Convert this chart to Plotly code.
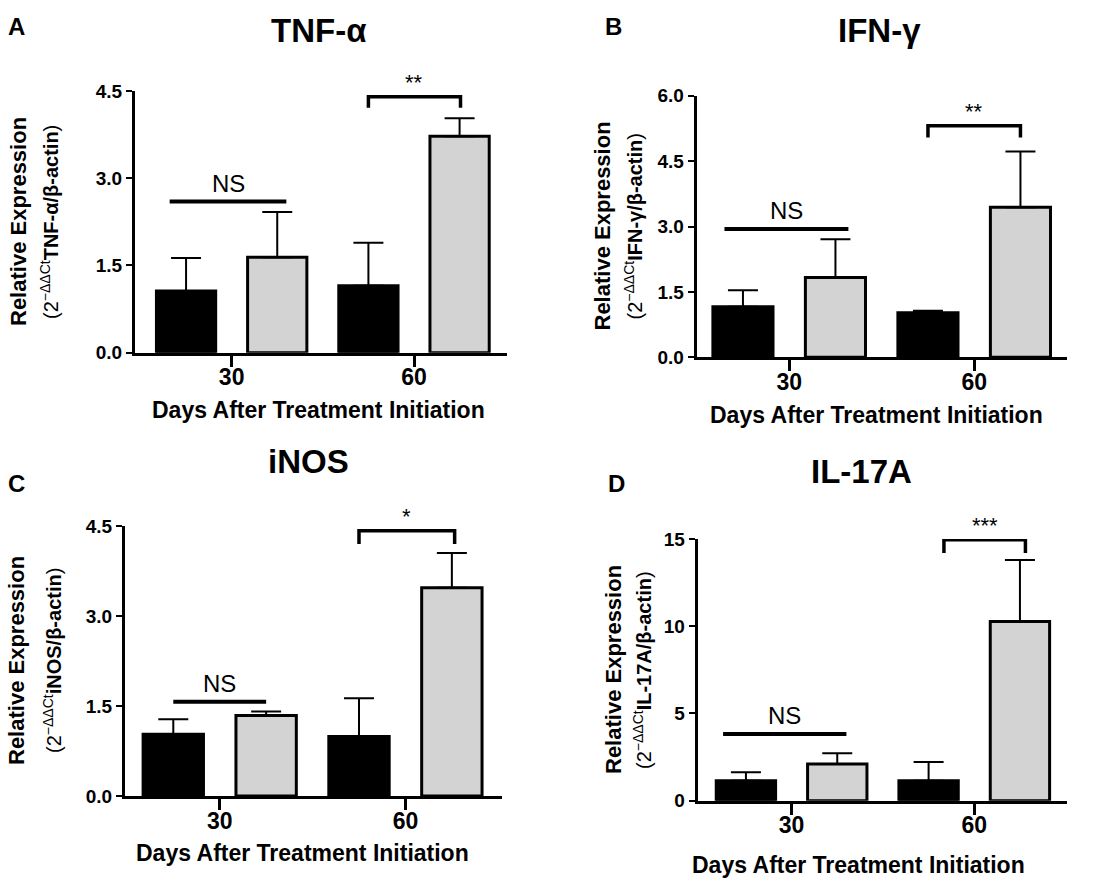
import plotly.graph_objects as go

W, H = 1115, 889
FONT = "Arial, Liberation Sans, sans-serif"
GRAY = "#d3d3d3"

days = ["30", "60"]

# means and upper error (SEM)
tnf_ctrl = [1.06, 1.15]
tnf_ctrl_err = [0.57, 0.74]
tnf_trt = [1.64, 3.72]
tnf_trt_err = [0.78, 0.31]

ifn_ctrl = [1.16, 1.02]
ifn_ctrl_err = [0.38, 0.05]
ifn_trt = [1.83, 3.44]
ifn_trt_err = [0.88, 1.28]

inos_ctrl = [1.03, 0.99]
inos_ctrl_err = [0.25, 0.64]
inos_trt = [1.34, 3.47]
inos_trt_err = [0.07, 0.58]

il17_ctrl = [1.15, 1.15]
il17_ctrl_err = [0.48, 1.07]
il17_trt = [2.10, 10.27]
il17_trt_err = [0.62, 3.53]

ns_level = [2.60, 2.94, 1.57, 3.82]
star_level = [4.40, 5.31, 4.42, 14.95]
star_drop = [4.21, 5.04, 4.20, 14.20]
star_text = ["**", "**", "*", "***"]

y_max = [4.5, 6.0, 4.5, 15]
y_step = [1.5, 1.5, 1.5, 5]
y_fmt = [".1f", ".1f", ".1f", "d"]
titles = ["TNF-α", "IFN-γ", "iNOS", "IL-17A"]
genes = ["TNF-α", "IFN-γ", "iNOS", "IL-17A"]
letters = ["A", "B", "C", "D"]


def px(x, y):
    return x / W, 1 - y / H


# pixel boxes of each plot area: left, right, top, bottom
boxes = [(135, 507, 91, 352.7), (696.7, 1066.7, 95.7, 357.3),
         (125, 502, 526, 796), (697.7, 1066.7, 539, 800.7)]
x_range = [(-0.53, 1.51), (-0.5, 1.5), (-0.51, 1.52), (-0.514, 1.506)]
ns_span = [(-0.34, 0.30), (-0.35, 0.32), (-0.25, 0.25), (-0.375, 0.30)]
br_span = [(0.75, 1.255), (0.75, 1.25), (0.75, 1.265), (0.834, 1.28)]
title_pos = [(318, 31), (879, 31), (308, 462), (861, 471)]
letter_pos = [(16, 27), (614, 27), (16, 483), (616, 483)]
xtitle_pos = [(318, 410), (876, 415), (302, 853), (858, 865)]
ytitle_pos = [(18, 49, 222), (602, 633, 226.5), (16, 52, 661), (613, 642, 670)]

ctrl = [(tnf_ctrl, tnf_ctrl_err), (ifn_ctrl, ifn_ctrl_err),
        (inos_ctrl, inos_ctrl_err), (il17_ctrl, il17_ctrl_err)]
trt = [(tnf_trt, tnf_trt_err), (ifn_trt, ifn_trt_err),
       (inos_trt, inos_trt_err), (il17_trt, il17_trt_err)]

fig = go.Figure()
ann = []
shapes = []


def label(x, y, text, size, angle=0):
    ax, ay = px(x, y)
    ann.append(dict(xref="paper", yref="paper", x=ax, y=ay, text=text,
                    showarrow=False, xanchor="center", yanchor="middle",
                    textangle=angle,
                    font=dict(family=FONT, size=size, color="black")))


for i in range(4):
    sfx = "" if i == 0 else str(i + 1)
    xa, ya = "x" + sfx, "y" + sfx
    for (vals, err), col in [(ctrl[i], "black"), (trt[i], GRAY)]:
        fig.add_trace(go.Bar(
            x=days, y=vals, xaxis=xa, yaxis=ya,
            marker=dict(color=col, line=dict(color="black", width=3)),
            error_y=dict(type="data", symmetric=False, array=err,
                         arrayminus=[0, 0], color="black",
                         thickness=2, width=15),
            showlegend=False, offsetgroup=col))

    l, r, t, b = boxes[i]
    x0, y1 = px(l, t)
    x1, y0 = px(r, b)
    fig.layout["xaxis" + sfx] = dict(
        domain=[x0, x1], anchor=ya, type="category", range=list(x_range[i]),
        showline=True, linecolor="black", linewidth=3, ticks="outside",
        ticklen=11, tickwidth=3, tickcolor="black", showgrid=False,
        zeroline=False, automargin=False, ticklabelstandoff=-9,
        tickfont=dict(family=FONT, size=23, color="black", weight="bold"),
        fixedrange=True)
    fig.layout["yaxis" + sfx] = dict(
        domain=[y0, y1], anchor=xa, range=[0, y_max[i]], dtick=y_step[i],
        tick0=0, tickformat=y_fmt[i], showline=True, linecolor="black",
        linewidth=3, ticks="outside", ticklen=6, tickwidth=2,
        tickcolor="black", showgrid=False, zeroline=False, automargin=False,
        tickfont=dict(family=FONT, size=19, color="black", weight="bold"),
        fixedrange=True)

    # NS line
    a, c = ns_span[i]
    shapes.append(dict(type="line", xref=xa, yref=ya, x0=a, x1=c,
                       y0=ns_level[i], y1=ns_level[i],
                       line=dict(color="black", width=4)))
    ann.append(dict(xref=xa, yref=ya, x=(a + c) / 2, y=ns_level[i],
                    text="NS", showarrow=False, xanchor="center",
                    yanchor="bottom", yshift=3,
                    font=dict(family=FONT, size=24, color="black")))
    # significance bracket
    a, c = br_span[i]
    shapes.append(dict(type="path", xref=xa, yref=ya,
                       path=f"M {a},{star_drop[i]} L {a},{star_level[i]} "
                            f"L {c},{star_level[i]} L {c},{star_drop[i]}",
                       line=dict(color="black", width=3.5)))
    ann.append(dict(xref=xa, yref=ya, x=(a + c) / 2, y=star_level[i],
                    text=star_text[i], showarrow=False, xanchor="center",
                    yanchor="bottom", yshift=0,
                    font=dict(family=FONT, size=22, color="black")))

    # titles and labels in pixel positions
    label(*title_pos[i], f"<b>{titles[i]}</b>", 33)
    label(*letter_pos[i], f"<b>{letters[i]}</b>", 24)
    label(*xtitle_pos[i], "<b>Days After Treatment Initiation</b>", 23)
    c1, c2, cy = ytitle_pos[i]
    label(c1, cy, "<b>Relative Expression</b>", 22, -90)
    label(c2, cy, f"(2<sup>−ΔΔCt</sup><b>{genes[i]}/β-actin</b>)", 20, -90)

fig.update_layout(
    template="none",
    width=W, height=H, margin=dict(l=0, r=0, t=0, b=0, autoexpand=False),
    paper_bgcolor="white", plot_bgcolor="white",
    barmode="group", bargap=0, bargroupgap=0.35,
    annotations=ann, shapes=shapes)

fig.write_html("out.html", config={"displayModeBar": False},
               post_script="document.body.style.margin='0px';")
